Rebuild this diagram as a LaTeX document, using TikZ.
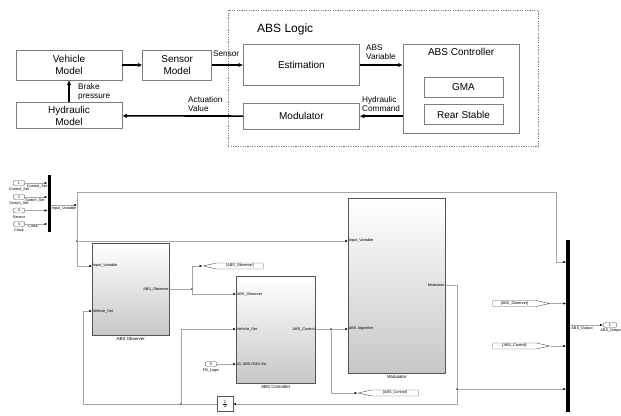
\documentclass[tikz,border=0pt]{standalone}
\usepackage{fontspec}
\setmainfont{Liberation Sans}
\usepackage{tikz}
\usetikzlibrary{arrows.meta,positioning,calc,shadows,shapes.symbols}
\definecolor{boxgray}{RGB}{125,125,125}
\definecolor{wiregray}{RGB}{165,165,165}
\definecolor{blkedge}{RGB}{85,85,85}
\tikzset{
  topbox/.style={draw=boxgray, line width=0.7pt, align=center, inner sep=1pt,
    font=\fontsize{10}{11.5}\selectfont},
  flow/.style={-{Latex[length=4.5pt,width=4.5pt]}, line width=1.6pt},
  lbl/.style={font=\fontsize{8.2}{9}\selectfont, align=left, inner sep=0pt},
  simblock/.style={draw=blkedge, line width=0.6pt, top color=white, bottom color=black!22,
    drop shadow={shadow xshift=0.9pt, shadow yshift=-0.9pt, fill=black!65, opacity=0.9},
    anchor=north west, inner sep=0pt},
  wire/.style={draw=wiregray, line width=0.5pt},
  wirearr/.style={wire, -{Latex[length=2.6pt,width=2.2pt,color=black]}},
  port/.style={font=\fontsize{3.8}{4}\selectfont, inner sep=0.7pt},
  blklabel/.style={font=\fontsize{4.4}{5}\selectfont, inner sep=0pt},
  inport/.style={draw=blkedge, line width=0.4pt, rounded corners=2.4pt, minimum width=12pt,
    minimum height=5pt, inner sep=0pt, fill=white, font=\fontsize{3.8}{4}\selectfont},
  joint/.style={circle, fill=black, inner sep=0pt, minimum size=1.8pt},
  tag/.style={draw=blkedge, line width=0.4pt, fill=white, signal, signal pointer angle=25,
    minimum height=6pt, inner sep=0.5pt, font=\fontsize{3.8}{4}\selectfont}
}

\begin{document}
\begin{tikzpicture}[x=1pt, y=-1pt]
\useasboundingbox (0,0) rectangle (621,415);
\clip (0,0) rectangle (621,415);

% ---- concept diagram ----
\node[draw=boxgray, dash pattern=on 1.2pt off 1.2pt, line width=0.5pt, minimum width=310pt,
  minimum height=136pt, anchor=north west] (logic) at (228,10) {};
\node[font=\fontsize{12}{14}\selectfont, anchor=west, inner sep=0pt] (logictitle) at (257,29) {ABS Logic};

\node[topbox, minimum width=106pt, minimum height=30pt] (veh) at (69,65) {Vehicle\\Model};
\node[topbox, minimum width=69pt, minimum height=30pt, right=20pt of veh] (sen) {Sensor\\Model};
\node[topbox, minimum width=116pt, minimum height=41pt, right=31pt of sen] (est) {Estimation};
\node[topbox, minimum width=116pt, minimum height=89pt, right=43pt of est.north east, anchor=north west] (ctrl) {};
\node[font=\fontsize{10}{12}\selectfont, inner sep=0pt] (ctrltitle) at ($(ctrl.north)+(0,8)$) {ABS Controller};
\node[topbox, minimum width=79pt, minimum height=20pt] (gma) at (463.5,87) {GMA};
\node[topbox, minimum width=79pt, minimum height=20pt, below=7pt of gma] (rear) {Rear Stable};
\node[topbox, minimum width=106pt, minimum height=26pt, below=22pt of veh] (hyd) {Hydraulic\\Model};
\node[topbox, minimum width=116pt, minimum height=26pt, below=17pt of est] (mdl) {Modulator};

\draw[flow] (veh)--(sen);
\draw[flow] (sen.east)--(sen.east -| est.west);
\draw[flow] (est.east)--(est.east -| ctrl.west);
\draw[flow] (ctrl.west |- mdl.east)--(mdl.east);
\draw[flow] (mdl)--(hyd);
\draw[flow] (hyd)--(veh);

\node[lbl, anchor=base west] (senlbl) at (213,56.5) {Sensor};
\node[lbl, anchor=north west] (varlbl) at (366,44.5) {ABS\\Variable};
\node[lbl, anchor=north west] (cmdlbl) at (362,96.5) {Hydraulic\\Command};
\node[lbl, anchor=north west] (actlbl) at (188,96.5) {Actuation\\Value};
\node[lbl, anchor=north west] (brklbl) at (78,83.5) {Brake\\pressure};

% ---- simulink model ----
\node[simblock, minimum width=77pt, minimum height=92pt] (obs) at (92,243) {};
\node[simblock, minimum width=79pt, minimum height=107pt] (ctl) at (236,276) {};
\node[simblock, minimum width=97pt, minimum height=175pt] (mod) at (348,198) {};
\node[blklabel, below=1.8pt of obs] (obslbl) {ABS Observer};
\node[blklabel, below=1.8pt of ctl] (ctllbl) {ABS Controller};
\node[blklabel, below=1.8pt of mod] (modlbl) {Modulator};

\node[port, anchor=west] (obsp1) at (obs.west |- 0,266) {Input\_Variable};
\node[port, anchor=west] (obsp2) at (obs.west |- 0,311) {Vehicle\_Set};
\node[port, anchor=east] (obsout) at (obs.east |- 0,289) {ABS\_Observer};
\node[port, anchor=west] (ctlp1) at (ctl.west |- 0,294) {ABS\_Observer};
\node[port, anchor=west] (ctlp2) at (ctl.west |- 0,329) {Vehicle\_Set};
\node[port, anchor=west] (ctlp3) at (ctl.west |- 0,364) {UL ABS GMA Sw};
\node[port, anchor=east] (ctlout) at (ctl.east |- 0,329) {ABS\_Control};
\node[port, anchor=west] (modp1) at (mod.west |- 0,241) {Input\_Variable};
\node[port, anchor=west] (modp2) at (mod.west |- 0,329) {ABS Algorithm};
\node[port, anchor=east] (modout) at (mod.east |- 0,285) {Modulator};

% inports and bus
\node[fill=black, minimum width=3pt, minimum height=57pt, inner sep=0pt] (mux) at (49,203.5) {};
\node[fill=black, minimum width=3.5pt, minimum height=172pt, inner sep=0pt] (bus) at (568,326) {};
\node[inport] (in1) at (19,183) {1};
\node[inport] (in2) at (19,197) {2};
\node[inport] (in3) at (19,210.5) {3};
\node[inport] (in4) at (19,224) {4};
\node[port] (in1lbl) at (19,189.5) {Control\_Set};
\node[port] (in2lbl) at (19,203.5) {Switch\_Set};
\node[port] (in3lbl) at (19,217) {Sensor};
\node[port] (in4lbl) at (19,230.5) {Clock};
\node[port] (sig1) at (37,186.5) {Control\_Set};
\node[port] (sig2) at (35,200.5) {Switch\_Set};
\node[port] (sig4) at (33,226.5) {Clock};
\foreach \i in {1,...,4}
  \draw[wirearr] (in\i.east) -- (in\i.east -| mux.west);
\node[inport] (fb) at (211,364) {5};
\node[port] (fblbl) at (211,370.5) {FB\_Logic};
\node[inport, minimum width=14pt] (out1) at (610,325) {1};
\node[port] (out1lbl) at (611,331) {ABS\_Output};
\node[port] (outsig) at (582,328.5) {ABS\_Output};

% goto / from tags
\node[tag, signal to=west, minimum width=60pt] (obstag) at (240,266) {[ABS\_Observer]};
\node[tag, signal to=west, minimum width=60pt] (ctltag) at (395,393) {[ABS\_Control]};
\node[tag, signal to=east, minimum width=57pt] (obsfrom) at (514.5,303.5) {[ABS\_Observer]};
\node[tag, signal to=east, minimum width=57pt] (ctlfrom) at (514.5,346) {[ABS\_Control]};

\node[draw=blkedge, line width=0.5pt, fill=white, minimum width=16pt, minimum height=15pt,
  inner sep=0pt, font=\fontsize{5}{5}\selectfont,
  drop shadow={shadow xshift=0.7pt, shadow yshift=-0.7pt, fill=black!65}] (gain) at (225,404) {$\frac{1}{2}$};

% junctions
\coordinate (busout) at (77,205);
\coordinate (vtop) at (77,192);
\coordinate (vbot) at (77,266);
\coordinate (ttop) at (556,262);
\coordinate (fbl) at (83,404);
\node[joint] (j1) at (77,241) {};
\node[joint] (j2) at (192,289) {};
\node[joint] (j3) at (331,329) {};
\node[joint] (j4) at (457,389) {};
\node[joint] (j5) at (181,404) {};
\node[port, anchor=north] (buslbl) at (64,205.5) {Input\_Variable};

% wires
\draw[wirearr] (mux.east |- busout) -- (busout);
\draw[wire] (vtop) -- (vbot);
\draw[wirearr] (vtop) -| (ttop) -- (bus.west |- ttop);
\draw[wirearr] (j1) -- (modp1.west);
\draw[wirearr] (vbot) -- (obsp1.west);
\draw[wire] (obsout.east) -- (j2);
\draw[wirearr] (j2) |- (obstag.west);
\draw[wirearr] (j2) |- (ctlp1.west);
\draw[wire] (ctlout.east) -- (j3);
\draw[wirearr] (j3) -- (modp2.west);
\draw[wirearr] (j3) |- (ctltag.west);
\draw[wire] (modout.east) -| (j4);
\draw[wirearr] (j4) -- (bus.west |- j4);
\draw[wirearr] (j4) |- (gain.east);
\draw[wire] (gain.west) -- (j5);
\draw[wirearr] (j5) |- (ctlp2.west);
\draw[wirearr] (j5) -- (fbl) |- (obsp2.west);
\draw[wirearr] (fb.east) -- (ctlp3.west);
\draw[wirearr] (obsfrom.east) -- (bus.west |- obsfrom.east);
\draw[wirearr] (ctlfrom.east) -- (bus.west |- ctlfrom.east);
\draw[wirearr] (bus.east |- out1) -- (out1.west);
\end{tikzpicture}
\end{document}
